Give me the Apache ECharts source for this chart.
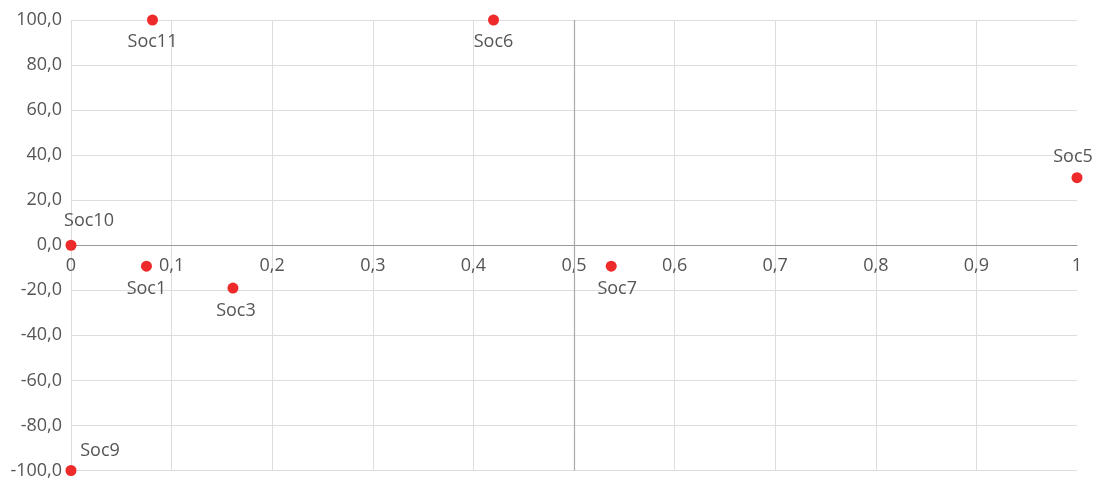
<!DOCTYPE html>
<html><head><meta charset="utf-8">
<script src="https://cdn.jsdelivr.net/npm/echarts@6/dist/echarts.min.js"></script>
<style>html,body{margin:0;padding:0;background:#fff}#c{width:1100px;height:479px}</style>
</head><body><div id="c"></div>
<script>
const names = ['Soc11','Soc6','Soc5','Soc10','Soc1','Soc3','Soc7','Soc9'];
const xValues = [0.081, 0.42, 1.0, 0, 0.075, 0.161, 0.537, 0];
const yValues = [100, 100, 30, 0, -9.3, -19, -9.3, -100];

const labelStyle = {
  Soc11: {position:'bottom', offset:[0,1]},
  Soc6: {position:'bottom', offset:[0,1]},
  Soc5: {position:'top', offset:[-4,0]},
  Soc10: {position:'top', offset:[18,-4]},
  Soc1: {position:'bottom', offset:[0,2]},
  Soc3: {position:'bottom', offset:[3,2]},
  Soc7: {position:'bottom', offset:[6,2]},
  Soc9: {position:'top', offset:[29,1]}
};
const FONT = 'Open Sans';
const TXT = '#555';
const FS = 18;
const data = names.map((n,i)=>({
  name:n, value:[xValues[i], yValues[i]],
  label:{show:true, formatter:'{b}', color:TXT, fontFamily:FONT, fontSize:FS,
    position:labelStyle[n].position, offset:labelStyle[n].offset, distance:6}
}));
const gridTop = 20, gridBottom = 8.5, H = 479;
const plotH = H - gridTop - gridBottom;
const chart = echarts.init(document.getElementById('c'), null, {renderer:'canvas'});
chart.setOption({
  animation:false,
  grid:{left:71, right:23, top:gridTop, bottom:gridBottom, containLabel:false, outerBoundsMode:'none'},
  xAxis:{type:'value', min:0, max:1, interval:0.1, position:'bottom', offset:-plotH/2,
    axisLine:{show:true, onZero:false, lineStyle:{color:'#999', width:1}},
    axisTick:{show:false},
    axisLabel:{margin:12, color:TXT, fontFamily:FONT, fontSize:FS,
      formatter:v=>{ if(v===0) return '0'; if(v===1) return '1'; return v.toFixed(1).replace('.',','); }},
    splitLine:{show:true, showMaxLine:false, lineStyle:{color:'#dddddd', width:1}}
  },
  yAxis:{type:'value', min:-100, max:100, interval:20,
    axisLine:{show:false}, axisTick:{show:false},
    axisLabel:{margin:9, color:TXT, fontFamily:FONT, fontSize:FS,
      formatter:v=>v.toFixed(1).replace('.',',')},
    splitLine:{show:true, lineStyle:{color:'#dddddd', width:1}}
  },
  series:[{
    type:'scatter', symbolSize:11, itemStyle:{color:'#ee2a2a', opacity:1},
    label:{color:TXT, fontFamily:FONT, fontSize:FS},
    data:data,
    markLine:{silent:true, symbol:['none','none'], label:{show:false},
      lineStyle:{color:'#aaaaaa', type:'solid', width:1.2},
      data:[{xAxis:0.5}]}
  }]
});
</script></body></html>
